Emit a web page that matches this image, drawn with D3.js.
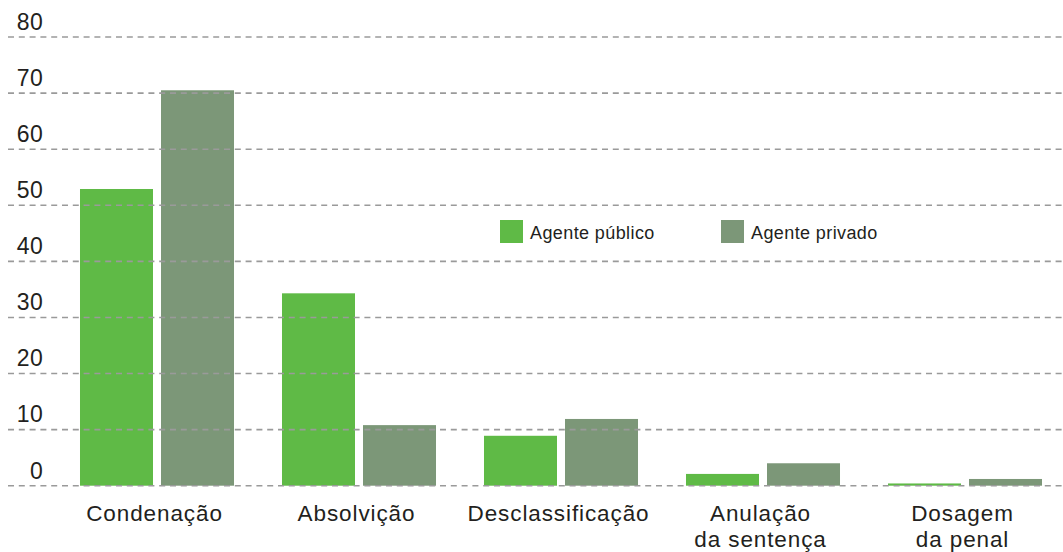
<!DOCTYPE html>
<html>
<head>
<meta charset="utf-8">
<script src="https://cdn.jsdelivr.net/npm/d3@7"></script>
<style>
  body { margin: 0; background: #fff; }
  text { font-family: "Liberation Sans", Arial, sans-serif; fill: #231f20; }
</style>
</head>
<body>
<script>
// categories, series and values
const categories = [["Condenação"], ["Absolvição"], ["Desclassificação"], ["Anulação", "da sentença"], ["Dosagem", "da penal"]];
const seriesNames = ["Agente público", "Agente privado"];
const publico = [52.9, 34.3, 8.9, 2.1, 0.4];
const privado = [70.5, 10.8, 11.9, 4.0, 1.2];
const yTicks = [0, 10, 20, 30, 40, 50, 60, 70, 80];
const colors = ["#5fba46", "#7c9778"];

const width = 1063, height = 552;

const svg = d3.select("body").append("svg").attr("width", width).attr("height", height);

const catKeys = categories.map((c) => c.join(" "));

const x0 = d3.scaleBand().domain(catKeys).range([56, 1066]).paddingInner(0.2376).paddingOuter(0.1188);
const x1 = d3.scaleBand().domain(seriesNames).range([0, x0.bandwidth()]).paddingInner(0.0988);
const yScale = d3.scaleLinear().domain([0, 80]).range([485.7, 37]);

const rows = catKeys.map((k, i) => ({ key: k, values: [publico[i], privado[i]] }));

// bars
const groups = svg.selectAll("g.group").data(rows).enter().append("g")
  .attr("class", "group")
  .attr("transform", (d) => "translate(" + x0(d.key) + ",0)");

groups.selectAll("rect")
  .data((d) => d.values.map((v, j) => ({ name: seriesNames[j], v: v, j: j })))
  .enter()
  .append("rect")
  .attr("x", (d) => x1(d.name))
  .attr("width", x1.bandwidth())
  .attr("y", (d) => yScale(d.v))
  .attr("height", (d) => yScale(0) - yScale(d.v))
  .attr("fill", (d) => colors[d.j]);

// dashed gridlines drawn over the bars
svg.append("g").selectAll("line").data(yTicks).enter().append("line")
  .attr("x1", 8).attr("x2", width)
  .attr("y1", (d) => yScale(d)).attr("y2", (d) => yScale(d))
  .attr("stroke", "#9a9a9a")
  .attr("stroke-width", 1.6)
  .attr("stroke-dasharray", "6,4.8");

// y labels sit above their gridline
const yAxis = d3.axisLeft(yScale).tickValues(yTicks).tickSize(0).tickPadding(0);
const yg = svg.append("g").attr("transform", "translate(43,-15)").call(yAxis);
yg.select(".domain").remove();
yg.selectAll("text").style("font-size", "23px").attr("fill", "#231f20")
  .style("letter-spacing", "0.3px")
  .style("font-family", "Liberation Sans, Arial, sans-serif");

// category labels
const xl = svg.append("g").selectAll("text").data(categories).enter().append("text")
  .attr("text-anchor", "middle")
  .attr("x", (d) => x0(d.join(" ")) + x0.bandwidth() / 2 - 2.5)
  .attr("y", 520.5)
  .style("font-size", "22.5px")
  .style("letter-spacing", "0.9px");
xl.selectAll("tspan").data((d) => d).enter().append("tspan")
  .attr("x", function () { return d3.select(this.parentNode).attr("x"); })
  .attr("dy", (d, i) => (i === 0 ? 0 : 26.5))
  .text((d) => d);

// legend
const legendX = [500, 721];
const legend = svg.append("g").selectAll("g").data(seriesNames).enter().append("g")
  .attr("transform", (d, i) => "translate(" + legendX[i] + ",220)");
legend.append("rect").attr("width", 23).attr("height", 23).attr("fill", (d, i) => colors[i]);
legend.append("text").attr("x", 30).attr("y", 18.5).style("font-size", "18px")
  .style("letter-spacing", "0.4px").text((d) => d);
</script>
</body>
</html>
